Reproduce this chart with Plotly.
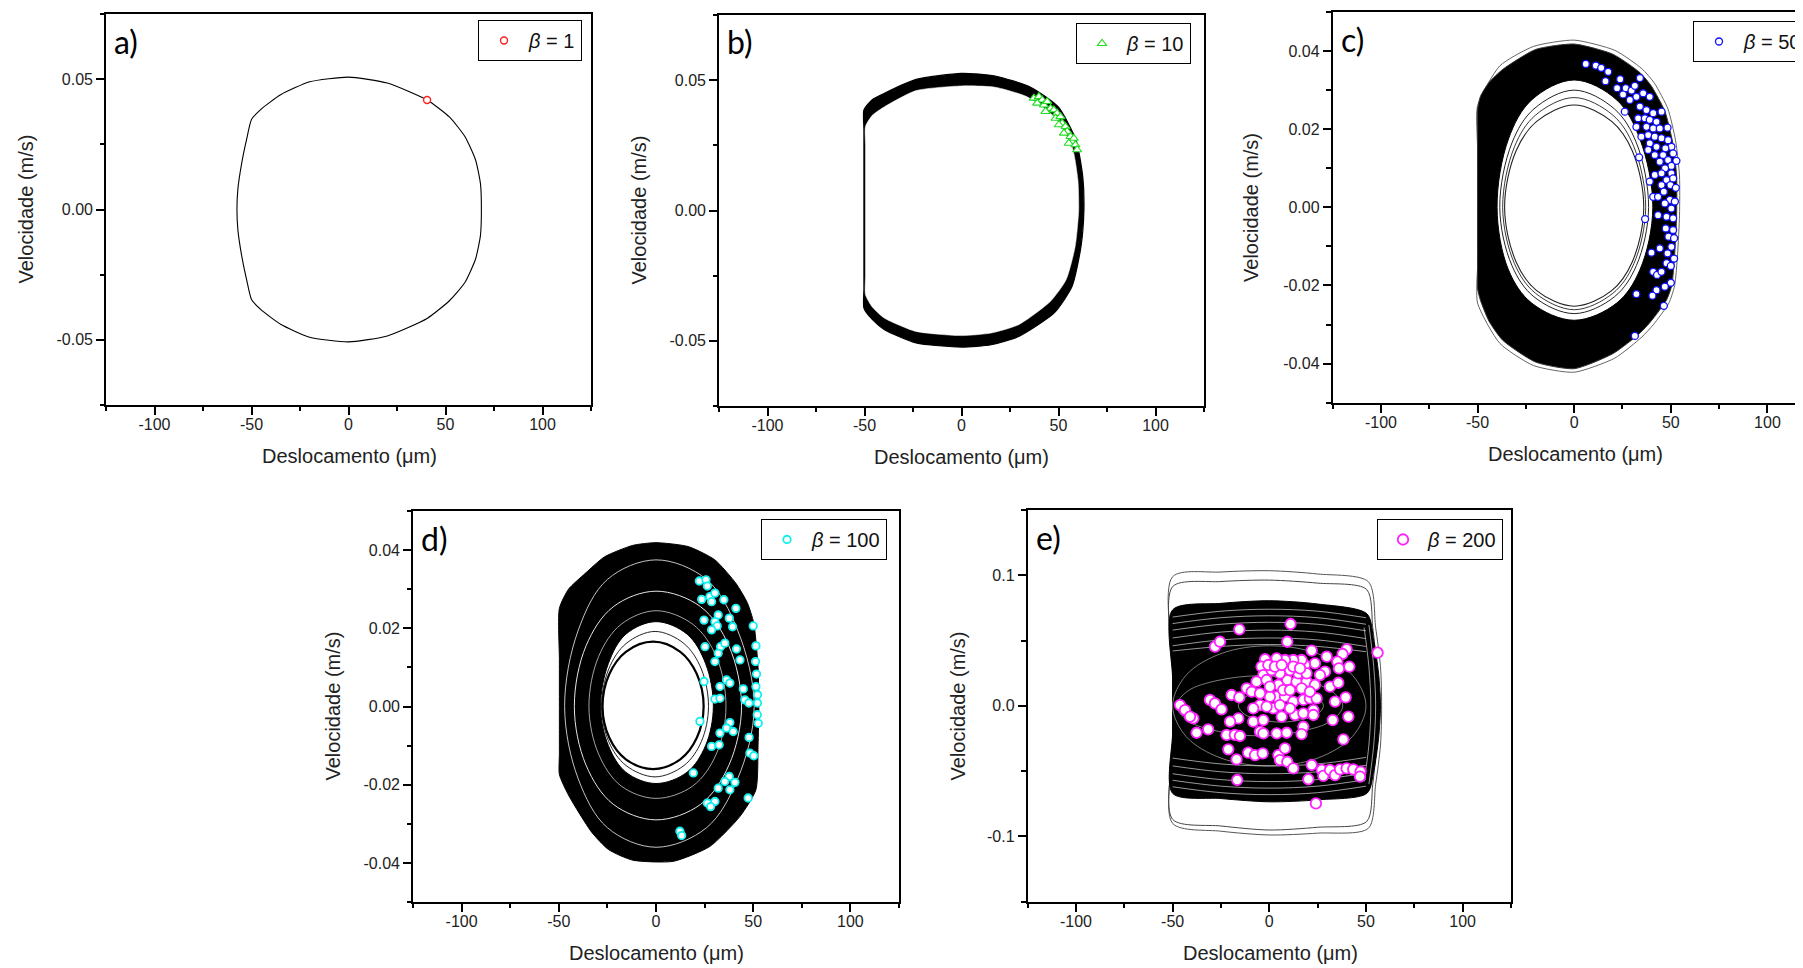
import plotly.graph_objects as go

# page size and the 8px default body margin of the html page
PAGE_W, PAGE_H = 1803, 968
OFF = 8
W, H = PAGE_W - OFF, PAGE_H - OFF
FONT = "Liberation Sans, Arial, sans-serif"

# ---------------- data ----------------
# a) beta = 1 : single closed orbit + one Poincare point
A_traj_x = [0, 20, 40.5, 52, 60, 65.5, 68, 68.5, 68, 65.5, 60, 52, 40.5, 20, 0, -20, -35, -45, -50, -52.5, -55, -57, -57.5, -57, -55, -52.5, -50, -45, -35, -20, 0]
A_traj_y = [0.0508, 0.0485, 0.0420, 0.0355, 0.0280, 0.0190, 0.0100, 0, -0.0100, -0.0190, -0.0280, -0.0350, -0.0418, -0.0485, -0.0508, -0.0490, -0.0440, -0.0385, -0.0345, -0.0270, -0.0180, -0.0080, 0, 0.0080, 0.0180, 0.0270, 0.0345, 0.0385, 0.0440, 0.0490, 0.0508]
A_pts_x = [40.5]
A_pts_y = [0.0420]

# b) beta = 10 : thick band (outer / inner edge) + Poincare points
B_out_x = [0, 17.3, 35.6, 49.8, 59, 62.5, 63.1, 61.6, 57, 47.8, 29.5, 15.3, 0, -23.4, -39.7, -46, -50.3, -50.3, -50.3, -50.3, -50.3, -50.3, -46, -39.7, -23.4, 0]
B_out_y = [0.0526, 0.0516, 0.0473, 0.0398, 0.0271, 0.0130, 0, -0.0138, -0.0291, -0.0393, -0.0483, -0.0515, -0.0524, -0.0508, -0.0457, -0.0418, -0.0374, -0.0300, -0.0100, 0.0100, 0.0310, 0.0386, 0.0425, 0.0450, 0.0503, 0.0526]
B_in_x = [0, 17.3, 33.6, 47.8, 57, 60, 60.4, 58.6, 53.9, 45.8, 29.5, 15.3, 0, -23.4, -39.7, -46, -49.5, -49.5, -49.5, -49.5, -49.5, -49.5, -46, -39.7, -23.4, 0]
B_in_y = [0.0478, 0.0473, 0.0437, 0.0360, 0.0245, 0.0118, 0, -0.0138, -0.0266, -0.0349, -0.0438, -0.0470, -0.0480, -0.0464, -0.0413, -0.0370, -0.0323, -0.0250, -0.0100, 0.0100, 0.0250, 0.0322, 0.0365, 0.0398, 0.0460, 0.0478]
B_pts_x = [37.3, 39.9, 41.6, 39.0, 42.5, 44.2, 45.9, 43.3, 47.6, 49.3, 48.5, 51.0, 51.9, 50.2, 53.6, 54.5, 52.8, 56.2, 57.0, 55.3, 58.7, 59.6, 57.9]
B_pts_y = [0.0431, 0.0437, 0.0424, 0.0412, 0.0405, 0.0418, 0.0392, 0.0380, 0.0386, 0.0373, 0.0354, 0.0360, 0.0335, 0.0329, 0.0322, 0.0303, 0.0297, 0.0284, 0.0265, 0.0258, 0.0252, 0.0233, 0.0277]

# c) beta = 50
C_out_x = [0, 20, 34, 40, 47, 51, 53, 53, 52, 50.5, 47.8, 40, 34, 20.2, 0, -20, -37, -44, -48.5, -50, -50, -50, -50, -50, -50, -48.5, -44, -37, -20, 0]
C_out_y = [0.0418, 0.0392, 0.0345, 0.0310, 0.0245, 0.0165, 0.0080, -0.0020, -0.0120, -0.0200, -0.0237, -0.0290, -0.0322, -0.0374, -0.0413, -0.0396, -0.0340, -0.0292, -0.0238, -0.0208, -0.0150, 0, 0.0150, 0.0200, 0.0250, 0.0284, 0.0320, 0.0353, 0.0404, 0.0418]
C_loop_x = [0, 21, 35, 41.5, 48.5, 52.5, 54.5, 54.5, 53.5, 52, 49, 41, 35, 21, 0, -21, -38.5, -50, -50, -50, -50, -38.5, -21, 0]
C_loop_y = [0.0428, 0.0402, 0.0355, 0.0318, 0.0252, 0.0170, 0.0080, -0.0020, -0.0120, -0.0200, -0.0245, -0.0300, -0.0332, -0.0386, -0.0422, -0.0405, -0.0348, -0.0245, -0.0150, 0.0150, 0.0260, 0.0362, 0.0412, 0.0428]
C_hole_x = [0, 22, 34, 40.7, 34, 22, 0, -22, -34, -39.9, -34, -22, 0]
C_hole_y = [0.0326, 0.0275, 0.0175, 0, -0.0160, -0.0245, -0.0289, -0.0245, -0.0160, 0, 0.0175, 0.0275, 0.0326]
C_ring1_x = [0, 20.8, 32.2, 38.5, 32.2, 20.8, 0, -20.8, -32.2, -38.5, -32.2, -20.8, 0]
C_ring1_y = [0.0300, 0.0252, 0.0165, 0, -0.0149, -0.0229, -0.0272, -0.0229, -0.0149, 0, 0.0165, 0.0252, 0.0300]
C_ring2_x = [0, 20.0, 30.9, 37.0, 30.9, 20.0, 0, -20.0, -30.9, -37.0, -30.9, -20.0, 0]
C_ring2_y = [0.0281, 0.0236, 0.0155, 0, -0.0144, -0.0220, -0.0262, -0.0220, -0.0144, 0, 0.0155, 0.0236, 0.0281]
C_ring3_x = [0, 19.4, 30.1, 36.0, 30.1, 19.4, 0, -19.4, -30.1, -36.0, -30.1, -19.4, 0]
C_ring3_y = [0.0262, 0.0220, 0.0144, 0, -0.0139, -0.0213, -0.0253, -0.0213, -0.0139, 0, 0.0144, 0.0220, 0.0262]
C_pts_x = [6.0, 11.2, 14.0, 17.6, 16.2, 23.8, 34.0, 22.2, 25.3, 26.7, 29.7, 31.4, 32.2, 35.7, 39.1, 28.8, 34.0, 26.2, 37.4, 40.9,
           45.2, 33.1, 36.6, 39.1, 42.6, 32.2, 37.4, 40.9, 44.3, 48.3, 34.8, 38.3, 41.7, 45.2, 48.6, 50.3, 39.1, 42.6, 47.2, 38.3,
           41.7, 46.0, 51.2, 33.6, 44.3, 48.6, 52.9, 50.3, 47.0, 41.7, 45.2, 50.3, 47.8, 51.2, 39.1, 45.2, 49.8, 52.6, 40.9, 43.4,
           46.4, 49.5, 52.1, 46.9, 50.3, 43.4, 47.8, 51.2, 36.7, 47.4, 51.2, 48.8, 51.7, 50.3, 44.3, 48.3, 40.0, 51.7, 47.8, 50.0,
           40.9, 42.9, 45.2, 50.0, 46.9, 42.6, 40.5, 32.2, 46.4, 31.4]
C_pts_y = [0.0367, 0.0363, 0.0357, 0.0347, 0.0323, 0.0328, 0.0331, 0.0305, 0.0289, 0.0305, 0.0299, 0.0311, 0.0283, 0.0292, 0.0283, 0.0275, 0.0258, 0.0245, 0.0249, 0.0241,
           0.0245, 0.0228, 0.0228, 0.0224, 0.0219, 0.0206, 0.0206, 0.0202, 0.0202, 0.0204, 0.0181, 0.0185, 0.0181, 0.0177, 0.0172, 0.0155, 0.0164, 0.0155, 0.0151, 0.0147,
           0.0134, 0.0134, 0.0138, 0.0128, 0.0117, 0.0121, 0.0119, 0.0106, 0.0100, 0.0083, 0.0087, 0.0087, 0.0070, 0.0074, 0.0066, 0.0057, 0.0057, 0.0050, 0.0027, 0.0027,
           0.0040, 0.0019, 0.0015, 0.0010, -0.0003, -0.0020, -0.0024, -0.0028, -0.0030, -0.0054, -0.0058, -0.0075, -0.0079, -0.0101, -0.0105, -0.0118, -0.0116, -0.0131, -0.0143, -0.0150,
           -0.0165, -0.0173, -0.0165, -0.0193, -0.0203, -0.0212, -0.0226, -0.0222, -0.0252, -0.0329]

# d) beta = 100
D_out_x = [0, 16.6, 30.3, 41.1, 47, 50.3, 52.5, 52.9, 52.5, 51.4, 43.2, 27.7, 8.9, -12, -24.4, -33, -40.6, -45.5, -49.7, -49.7, -49.7, -49.7, -49.7, -45, -36.5, -26.4, -12, 0]
D_out_y = [0.0419, 0.0409, 0.0375, 0.0315, 0.0265, 0.0213, 0.0100, 0, -0.0100, -0.0213, -0.0281, -0.0358, -0.0396, -0.0393, -0.0366, -0.0322, -0.0264, -0.0222, -0.0174, -0.0120, 0, 0.0120, 0.0251, 0.0300, 0.0340, 0.0383, 0.0412, 0.0419]
D_hole_x = [0, 16, 25.5, 29.5, 25.5, 16, 0, -15.5, -24.5, -28.5, -24.5, -15.5, 0]
D_hole_y = [0.0217, 0.0185, 0.0110, 0, -0.0100, -0.0168, -0.0197, -0.0168, -0.0100, 0, 0.0110, 0.0185, 0.0217]
D_ring1_x = [-1.5, 12.5, 21, 24.5, 21, 12.5, -1.5, -15.5, -24, -27.5, -24, -15.5, -1.5]
D_ring1_y = [0.0166, 0.0140, 0.0083, 0, -0.0080, -0.0135, -0.0160, -0.0135, -0.0080, 0, 0.0083, 0.0140, 0.0166]
D_ring2_x = [-0.5, 14.4, 23.3, 27, 23.3, 14.4, -0.5, -15.4, -24.3, -28, -24.3, -15.4, -0.5]
D_ring2_y = [0.0192, 0.0161, 0.0096, 0, -0.0090, -0.0151, -0.0180, -0.0151, -0.0090, 0, 0.0096, 0.0161, 0.0192]
D_white1_x = [0, 26, 42, 50.5, 42, 26, 0, -25, -40, -47, -40, -25, 0]
D_white1_y = [0.0375, 0.0325, 0.0195, 0, -0.0185, -0.0310, -0.0360, -0.0310, -0.0185, 0, 0.0195, 0.0325, 0.0375]
D_white2_x = [0, 23, 37.5, 44, 37.5, 23, 0, -22, -36, -42, -36, -22, 0]
D_white2_y = [0.0295, 0.0255, 0.0155, 0, -0.0150, -0.0250, -0.0290, -0.0250, -0.0150, 0, 0.0155, 0.0255, 0.0295]
D_white3_x = [0, 19, 31, 36, 31, 19, 0, -18, -29.5, -34.5, -29.5, -18, 0]
D_white3_y = [0.0245, 0.0210, 0.0128, 0, -0.0122, -0.0203, -0.0235, -0.0203, -0.0122, 0, 0.0128, 0.0210, 0.0245]
D_pts_x = [22.3, 25.7, 26.4, 23.5, 27.7, 30.3, 28.6, 34.9, 41.1, 37.7, 32.0, 30.3, 31.5, 28.6, 24.7, 39.4, 50.0, 25.2, 33.2, 35.4,
           32.0, 30.3, 41.4, 43.2, 51.4, 51.2, 51.7, 24.7, 36.3, 32.9, 38.0, 44.9, 51.4, 52.2, 30.3, 32.9, 45.7, 47.8, 52.2, 52.1,
           52.6, 22.6, 38.0, 36.3, 32.9, 39.7, 47.9, 28.6, 32.5, 48.3, 50.3, 19.2, 37.7, 40.6, 35.4, 32.0, 38.0, 47.4, 26.4, 30.3,
           28.1, 12.3, 13.2]
D_pts_y = [0.0321, 0.0324, 0.0308, 0.0274, 0.0281, 0.0290, 0.0268, 0.0273, 0.0251, 0.0226, 0.0234, 0.0217, 0.0206, 0.0196, 0.0221, 0.0204, 0.0206, 0.0153, 0.0153, 0.0162,
           0.0136, 0.0115, 0.0147, 0.0119, 0.0155, 0.0115, 0.0083, 0.0064, 0.0068, 0.0051, 0.0060, 0.0045, 0.0051, 0.0030, 0.0019, 0.0021, 0.0017, 0.0009, 0.0009, -0.0021,
           -0.0043, -0.0038, -0.0041, -0.0055, -0.0068, -0.0064, -0.0079, -0.0102, -0.0098, -0.0119, -0.0126, -0.0170, -0.0179, -0.0194, -0.0192, -0.0209, -0.0213, -0.0234, -0.0247, -0.0243,
           -0.0256, -0.0319, -0.0330]

# e) beta = 200
E_loop1_x = [-50, -25, 0, 25, 51.2, 55, 57.5, 58.1, 57.5, 55, 51.2, 25, 0, -25, -50, -50, -50, -50]
E_loop1_y = [0.0989, 0.1025, 0.1035, 0.1010, 0.0951, 0.0600, 0.0300, 0, -0.0300, -0.0600, -0.0938, -0.0975, -0.0989, -0.0960, -0.0900, -0.0300, 0.0300, 0.0989]
E_loop2_x = [-50, -25, 0, 25, 50.3, 53.5, 55.5, 56, 55.5, 53.5, 50.3, 25, 0, -25, -50, -50, -50, -50]
E_loop2_y = [0.0913, 0.0952, 0.0963, 0.0940, 0.0892, 0.0600, 0.0300, 0, -0.0300, -0.0600, -0.0887, -0.0930, -0.0951, -0.0920, -0.0869, -0.0300, 0.0300, 0.0913]
E_core_x = [-50, -25, 0, 25, 50.5, 54, 56.5, 57.5, 56.5, 54, 50.5, 25, 0, -25, -50, -50, -50, -50]
E_core_y = [0.0735, 0.0785, 0.0805, 0.0780, 0.0705, 0.0500, 0.0250, 0, -0.0250, -0.0500, -0.0670, -0.0720, -0.0735, -0.0710, -0.0670, -0.0200, 0.0200, 0.0735]
E_arcs_x = [-50, -25, 0, 25, 50, None] * 11 + [49, 51.5, 52.5, 51.5, 49, None, 51.5, 54, 55, 54, 51.5]
E_arcs_y = [0.0680, 0.0725, 0.0740, 0.0725, 0.0675, None,
            0.0630, 0.0675, 0.0690, 0.0675, 0.0625, None,
            0.0580, 0.0625, 0.0640, 0.0625, 0.0575, None,
            0.0520, 0.0565, 0.0580, 0.0565, 0.0515, None,
            0.0460, 0.0505, 0.0520, 0.0505, 0.0455, None,
            -0.0620, -0.0665, -0.0680, -0.0665, -0.0615, None,
            -0.0570, -0.0615, -0.0630, -0.0615, -0.0565, None,
            -0.0520, -0.0565, -0.0580, -0.0565, -0.0515, None,
            -0.0460, -0.0505, -0.0520, -0.0505, -0.0455, None,
            -0.0400, -0.0445, -0.0460, -0.0445, -0.0395, None,
            0.0420, 0.0455, 0.0470, 0.0455, 0.0415, None,
            0.0600, 0.0300, 0, -0.0300, -0.0580, None,
            0.0620, 0.0300, 0, -0.0300, -0.0600]
E_ring1_x = [6, 17, 25, 28, 25, 17, 6, -5, -13, -16, -13, -5, 6]
E_ring1_y = [0.0125, 0.0105, 0.0063, 0, -0.0063, -0.0105, -0.0125, -0.0105, -0.0063, 0, 0.0063, 0.0105, 0.0125]
E_ring2_x = [-5, 16.5, 32, 38, 32, 16.5, -5, -26.5, -42, -48, -42, -26.5, -5]
E_ring2_y = [0.0230, 0.0195, 0.0115, 0, -0.0115, -0.0195, -0.0230, -0.0195, -0.0115, 0, 0.0115, 0.0195, 0.0230]
E_ring3_x = [0, 25, 43, 50, 43, 25, 0, -25, -43, -50, -43, -25, 0]
E_ring3_y = [0.0460, 0.0400, 0.0235, 0, -0.0235, -0.0400, -0.0460, -0.0400, -0.0235, 0, 0.0235, 0.0400, 0.0460]
E_pts_x = [-15.5, 11.0, -28.1, -25.5, 9.3, 21.9, 40.0, 37.9, 56.0, 29.7, 35.2, 41.4, 36.0, 28.8, 26.2, 31.4, 35.7, 23.6, 18.4, 16.7,
           12.4, 8.1, 3.8, -2.2, -4.0, -3.1, -6.6, -1.4, 4.7, 9.3, 14.1, 19.3, 23.6, 15.0, 10.7, 5.5, 1.2, 19.3, 3.8, 8.1,
           12.4, 17.6, 21.0, 24.5, -11.7, -9.1, 0.3, -4.8, -8.3, 2.1, 6.4, 13.3, 17.6, 22.8, 22.8, 34.0, 39.5, 32.8, 40.9, -19.5,
           -15.5, -30.7, -28.1, -24.7, -46.2, -43.6, -39.3, -41.0, -16.0, -20.3, -8.3, -3.1, -31.6, -37.6, -22.1, -17.8, -15.2, -4.8, -3.1, 3.8,
           9.0, 17.6, 16.7, -21.2, -16.9, -10.9, -7.4, -3.4, 4.7, 8.1, 5.5, 9.3, 12.4, -16.6, 21.9, 20.2, 27.1, 27.9, 31.4, 34.0,
           36.6, 40.0, 43.4, 47.2, 46.9, 24.1, 38.3, -0.5, 2.9, 6.4, 12.4, 15.9, 0.3, -4.8, 7.2, 10.7, 16.7, 21.0, -1.4, 5.5, 10.7]
E_pts_y = [0.0586, 0.0627, 0.0453, 0.0491, 0.0491, 0.0423, 0.0433, 0.0397, 0.0407, 0.0377, 0.0338, 0.0300, 0.0287, 0.0262, 0.0236, 0.0147, 0.0177, 0.0326, 0.0313, 0.0351,
           0.0351, 0.0351, 0.0364, 0.0357, 0.0300, 0.0236, 0.0185, 0.0198, 0.0160, 0.0198, 0.0185, 0.0185, 0.0160, 0.0249, 0.0274, 0.0249, 0.0274, 0.0249, 0.0070, 0.0070,
           0.0032, 0.0045, 0.0057, 0.0057, 0.0134, 0.0108, 0.0070, 0.0006, -0.0019, -0.0019, -0.0083, -0.0070, -0.0057, -0.0032, -0.0070, 0.0032, 0.0065, -0.0109, -0.0083, 0.0083,
           0.0065, 0.0045, 0.0019, -0.0027, 0.0006, -0.0032, -0.0096, -0.0083, -0.0096, -0.0121, -0.0121, -0.0109, -0.0180, -0.0206, -0.0223, -0.0223, -0.0231, -0.0198, -0.0211, -0.0211,
           -0.0206, -0.0160, -0.0216, -0.0333, -0.0410, -0.0359, -0.0377, -0.0364, -0.0377, -0.0326, -0.0415, -0.0428, -0.0479, -0.0568, -0.0453, -0.0562, -0.0491, -0.0537, -0.0491, -0.0530,
           -0.0486, -0.0479, -0.0486, -0.0504, -0.0542, -0.0747, -0.0257, 0.0313, 0.0300, 0.0313, 0.0300, 0.0287, 0.0147, 0.0096, 0.0121, 0.0121, 0.0134, 0.0108, -0.0006, 0.0006, -0.0019]

# tick labels
X_TICKS = [-100, -50, 0, 50, 100]
X_TICKTEXT = ["-100", "-50", "0", "50", "100"]
X_MINOR = [-125, -75, -25, 25, 75, 125]
Y_AB_TICKS = [-0.05, 0.0, 0.05]
Y_AB_TEXT = ["-0.05", "0.00", "0.05"]
Y_AB_MINOR = [-0.075, -0.025, 0.025, 0.075]
Y_CD_TICKS = [-0.04, -0.02, 0.0, 0.02, 0.04]
Y_CD_TEXT = ["-0.04", "-0.02", "0.00", "0.02", "0.04"]
Y_CD_MINOR = [-0.05, -0.03, -0.01, 0.01, 0.03, 0.05]
Y_E_TICKS = [-0.1, 0.0, 0.1]
Y_E_TEXT = ["-0.1", "0.0", "0.1"]
Y_E_MINOR = [-0.15, -0.05, 0.05, 0.15]

LEGEND_NAMES = ["<i>β</i> = 1", "<i>β</i> = 10", "<i>β</i> = 50", "<i>β</i> = 100", "<i>β</i> = 200"]
PANEL_LABELS = ["a)", "b)", "c)", "d)", "e)"]
X_TITLE = "Deslocamento (μm)"
Y_TITLE = "Velocidade (m/s)"

# ---------------- layout geometry (page pixels) ----------------
PANELS = [
    dict(l=106, r=591, t=14, b=405, xr=[-125, 125], yr=[-0.075, 0.075]),
    dict(l=719, r=1204, t=15, b=406, xr=[-125, 125], yr=[-0.075, 0.075]),
    dict(l=1332.6, r=1803, t=12, b=402.7, xr=[-125, 118.4], yr=[-0.05, 0.05]),
    dict(l=413, r=899, t=511, b=902, xr=[-125, 125], yr=[-0.05, 0.05]),
    dict(l=1027.6, r=1511, t=510, b=901.7, xr=[-125, 125], yr=[-0.15, 0.15]),
]
YT = [(Y_AB_TICKS, Y_AB_TEXT, Y_AB_MINOR), (Y_AB_TICKS, Y_AB_TEXT, Y_AB_MINOR),
      (Y_CD_TICKS, Y_CD_TEXT, Y_CD_MINOR), (Y_CD_TICKS, Y_CD_TEXT, Y_CD_MINOR),
      (Y_E_TICKS, Y_E_TEXT, Y_E_MINOR)]


def px_x(v):
    return (v - OFF) / W


def px_y(v):
    return 1 - (v - OFF) / H


fig = go.Figure()


def ax(i):
    s = "" if i == 0 else str(i + 1)
    return "x" + s, "y" + s


def line_trace(i, xs, ys, color="black", width=1.0, fill=None, fillcolor=None, opacity=1.0, smooth=1.0):
    xa, ya = ax(i)
    fig.add_trace(go.Scatter(x=xs, y=ys, mode="lines", xaxis=xa, yaxis=ya,
                             line=dict(color=color, width=width, shape="spline", smoothing=smooth),
                             fill=fill, fillcolor=fillcolor, opacity=opacity,
                             showlegend=False, hoverinfo="skip"))


def pts_trace(i, xs, ys, name, symbol, size, color, lw):
    xa, ya = ax(i)
    fig.add_trace(go.Scatter(x=xs, y=ys, mode="markers", xaxis=xa, yaxis=ya, name=name,
                             marker=dict(symbol=symbol, size=size, color="white",
                                         line=dict(color=color, width=lw)),
                             legend="legend" if i == 0 else "legend" + str(i + 1),
                             showlegend=True))


# a)
line_trace(0, A_traj_x, A_traj_y, width=1.1, smooth=0.55)
pts_trace(0, A_pts_x, A_pts_y, LEGEND_NAMES[0], "circle", 7, "#ff2020", 1.4)

# b)
line_trace(1, B_out_x, B_out_y, width=1.2, fill="toself", fillcolor="black", smooth=0.6)
line_trace(1, B_in_x, B_in_y, color="white", width=0.5, fill="toself", fillcolor="white", smooth=0.6)
pts_trace(1, B_pts_x, B_pts_y, LEGEND_NAMES[1], "triangle-up", 8, "#22dd22", 1.1)

# c)
line_trace(2, C_loop_x, C_loop_y, color="#555", width=0.9, smooth=0.6)
line_trace(2, C_out_x, C_out_y, color="#333", width=1.0, fill="toself", fillcolor="black", smooth=0.6)
line_trace(2, C_hole_x, C_hole_y, color="black", width=1.0, fill="toself", fillcolor="white")
line_trace(2, C_ring1_x, C_ring1_y, color="#222", width=1.0)
line_trace(2, C_ring2_x, C_ring2_y, color="#222", width=0.9)
line_trace(2, C_ring3_x, C_ring3_y, color="#222", width=1.1)
pts_trace(2, C_pts_x, C_pts_y, LEGEND_NAMES[2], "circle", 7, "#1010ff", 1.3)

# d)
line_trace(3, D_out_x, D_out_y, color="black", width=1.0, fill="toself", fillcolor="black", smooth=0.6)
line_trace(3, D_white1_x, D_white1_y, color="white", width=0.9, opacity=0.85)
line_trace(3, D_white2_x, D_white2_y, color="white", width=1.0, opacity=0.9)
line_trace(3, D_white3_x, D_white3_y, color="white", width=0.8, opacity=0.8)
line_trace(3, D_hole_x, D_hole_y, color="black", width=1.0, fill="toself", fillcolor="white")
line_trace(3, D_ring2_x, D_ring2_y, color="#222", width=1.0)
line_trace(3, D_ring1_x, D_ring1_y, color="black", width=2.2)
pts_trace(3, D_pts_x, D_pts_y, LEGEND_NAMES[3], "circle", 7.5, "#10f0f0", 1.8)

# e)
line_trace(4, E_loop1_x, E_loop1_y, color="#555", width=1.0, smooth=0.8)
line_trace(4, E_loop2_x, E_loop2_y, color="#444", width=1.0, smooth=0.8)
line_trace(4, E_core_x, E_core_y, color="black", width=1.0, fill="toself", fillcolor="black", smooth=0.8)
line_trace(4, E_arcs_x, E_arcs_y, color="white", width=0.8, opacity=0.75)
line_trace(4, E_ring3_x, E_ring3_y, color="white", width=0.8, opacity=0.6)
line_trace(4, E_ring2_x, E_ring2_y, color="white", width=0.8, opacity=0.6)
line_trace(4, E_ring1_x, E_ring1_y, color="white", width=0.8, opacity=0.6)
pts_trace(4, E_pts_x, E_pts_y, LEGEND_NAMES[4], "circle", 10.5, "#ff20ff", 1.8)

# ---------------- axes ----------------
layout = dict(width=W, height=H, paper_bgcolor="white", plot_bgcolor="white",
              margin=dict(l=0, r=0, t=0, b=0, autoexpand=False), showlegend=True,
              font=dict(family=FONT, color="#222"))
annotations = []
tick_font = dict(family=FONT, size=16, color="#222")
for i, p in enumerate(PANELS):
    s = "" if i == 0 else str(i + 1)
    yt, ytt, ym = YT[i]
    layout["xaxis" + s] = dict(
        domain=[px_x(p["l"]), min(1.0, px_x(p["r"]))], range=p["xr"], anchor="y" + s,
        showline=True, linecolor="black", linewidth=1.6, mirror=True,
        ticks="outside", ticklen=8, tickwidth=1.5, tickcolor="black",
        tickmode="array", tickvals=X_TICKS, ticktext=X_TICKTEXT, tickfont=tick_font,
        minor=dict(ticks="outside", ticklen=4.5, tickwidth=1.5, tickcolor="black", tickmode="array", tickvals=X_MINOR),
        showgrid=False, zeroline=False, fixedrange=True, ticklabelstandoff=-4)
    layout["yaxis" + s] = dict(
        domain=[px_y(p["b"]), px_y(p["t"])], range=p["yr"], anchor="x" + s,
        showline=True, linecolor="black", linewidth=1.6, mirror=(i != 2),
        ticks="outside", ticklen=8, tickwidth=1.5, tickcolor="black",
        tickmode="array", tickvals=yt, ticktext=ytt, tickfont=tick_font,
        minor=dict(ticks="outside", ticklen=4.5, tickwidth=1.5, tickcolor="black", tickmode="array", tickvals=ym),
        showgrid=False, zeroline=False, fixedrange=True, ticklabelstandoff=0)
    ytitle_off = 70 if i == 4 else 81
    annotations.append(dict(text=Y_TITLE, textangle=-90, xref="paper", yref="paper",
                            x=px_x(p["l"] - ytitle_off), y=px_y((p["t"] + p["b"]) / 2),
                            xanchor="center", yanchor="middle", showarrow=False,
                            font=dict(family=FONT, size=20, color="#222")))
    annotations.append(dict(text=X_TITLE, xref="paper", yref="paper",
                            x=px_x(p["l"] + 243), y=px_y(p["b"] + 51),
                            xanchor="center", yanchor="middle", showarrow=False,
                            font=dict(family=FONT, size=20, color="#222")))
    annotations.append(dict(text=PANEL_LABELS[i], xref="paper", yref="paper",
                            x=px_x(p["l"] + 6), y=px_y(p["t"] + 27),
                            xanchor="left", yanchor="middle", showarrow=False,
                            font=dict(family="Lato, Open Sans, sans-serif", size=32, color="black")))

layout["annotations"] = annotations

# legend boxes (page pixels: anchor x, top y)
legend_pos = [(582, 20, "right"), (1191, 23, "right"), (1693, 21, "left"), (887, 519, "right"), (1503, 519, "right")]
for i, (lx, ly, anc) in enumerate(legend_pos):
    key = "legend" if i == 0 else "legend" + str(i + 1)
    layout[key] = dict(x=px_x(lx), y=px_y(ly), xanchor=anc, yanchor="top", xref="paper", yref="paper",
                       bgcolor="white", bordercolor="black", borderwidth=1,
                       font=dict(family=FONT, size=20, color="#111"), itemwidth=40,
                       tracegroupgap=0, itemclick=False, itemdoubleclick=False)

fig.update_layout(**layout)
fig.write_html("out.html")
